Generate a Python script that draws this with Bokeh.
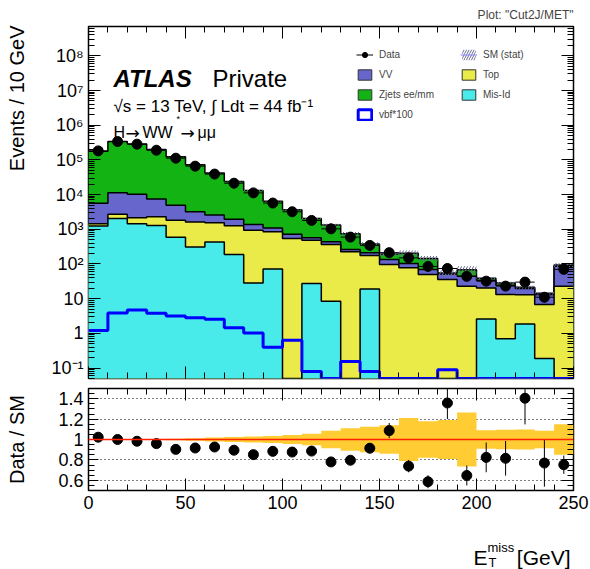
import math
import numpy as np
from bokeh.plotting import figure
from bokeh.models import (ColumnDataSource, FixedTicker, LogAxis, LinearAxis, Label,
                          Legend, LegendItem, Span, Range1d)
from bokeh.layouts import column, row
from bokeh.embed import file_html
from bokeh.resources import INLINE

FONT = "Liberation Sans"
ARROW_FONT = "DejaVu Sans"

# ---------------- data ----------------
bin_edges = [0, 10, 20, 30, 40, 50, 60, 70, 80, 90, 100, 110, 120, 130, 140, 150,
             160, 170, 180, 190, 200, 210, 220, 230, 240, 250]
data_counts = [182000, 338000, 284000, 190000, 112000, 66000, 39000, 21300, 11200,
               5700, 3200, 1800, 1030, 595, 343, 212, 150, 85, 74, 44, 32, 23, 30, 11, 70]
misid = [1240, 2060, 1440, 1290, 594, 310, 427, 188, 28.5, 72, 0, 27.4, 8.4, 0, 19,
         0, 0, 0, 0, 0, 2.6, 0.7, 1.86, 0.19, 0]
top = [200, 640, 710, 1010, 1216, 1310, 1113, 1072, 902, 778, 545, 453, 358, 224, 157,
       97, 77.6, 49.8, 35.7, 22.9, 17.8, 12.4, 11.2, 6.56, 22.9]
vv = [4160, 8600, 8050, 5150, 3090, 1580, 1030, 680, 450, 230, 170, 90, 69, 38, 33,
      38, 25.4, 19.6, 15.9, 21.6, 13.6, 11.3, 6.5, 6.35, 63.8]
zjets = [172400, 326700, 278800, 190550, 119100, 68800, 39530, 21860, 11770, 5370,
         2935, 1460, 885, 485, 166, 60, 100, 75.6, 2.9, 23.5, 4.8, 3.8, 1.8, 1.2, 6.3]
vbf_x100 = [1.2, 3.86, 4.7, 3.79, 3.16, 2.84, 2.54, 1.46, 1.02, 0.40, 0.63, 0.079, 0,
            0.155, 0.08, 0, 0, 0, 0.089, 0, 0, 0, 0, 0, 0]
sm_stat_rel = [0.005, 0.005, 0.005, 0.006, 0.008, 0.013, 0.02, 0.025, 0.03, 0.035,
               0.045, 0.056, 0.085, 0.11, 0.125, 0.14, 0.21, 0.18, 0.19, 0.265, 0.09,
               0.095, 0.097, 0.085, 0.15]

log_ticks = [0.1, 1, 10, 100, 1000, 10**4, 10**5, 10**6, 10**7, 10**8]
log_tick_labels = ["10⁻¹", "1", "10", "10²", "10³", "10⁴", "10⁵", "10⁶", "10⁷", "10⁸"]
ratio_ticks = [0.6, 0.8, 1.0, 1.2, 1.4]
ratio_tick_labels = ["0.6", "0.8", "1", "1.2", "1.4"]
x_ticks = [0, 50, 100, 150, 200, 250]
x_tick_labels = ["0", "50", "100", "150", "200", "250"]

# ---------------- derived ----------------
Y_MIN, Y_MAX = 0.05, 7e8
X_OFF = -1000.0  # legend proxies live outside the visible x range
edges = np.array(bin_edges, dtype=float)
left, right = edges[:-1], edges[1:]
centers = 0.5 * (left + right)

c_misid = np.array(misid, dtype=float)
c_top = c_misid + np.array(top)
c_vv = c_top + np.array(vv)
c_total = c_vv + np.array(zjets)
dat = np.array(data_counts, dtype=float)
derr = np.sqrt(dat)
rel = np.array(sm_stat_rel)

COL_Z = "#13b313"
COL_VV = "#6666cc"
COL_TOP = "#eaea48"
COL_MIS = "#48eaea"
COL_BAND = "#ffcc33"
COL_HATCH = "#6a6a90"


def clipv(a):
    return np.maximum(np.asarray(a, dtype=float), Y_MIN)


def ext(a):
    a = np.asarray(a, dtype=float)
    return np.append(a, a[-1])


def overrides(vals, labs):
    d = {}
    for v, l in zip(vals, labs):
        d[v] = l
        d[str(v)] = l
    return d


def style_axis(ax, ticker, labels=None, show=True):
    ax.ticker = ticker
    ax.axis_line_color = None
    ax.major_tick_in = 12
    ax.major_tick_out = 0
    ax.minor_tick_in = 6
    ax.minor_tick_out = 0
    ax.major_tick_line_color = "black"
    ax.minor_tick_line_color = "black"
    ax.major_tick_line_width = 1
    ax.minor_tick_line_width = 1
    if show:
        ax.major_label_text_font = FONT
        ax.major_label_text_font_size = "18px"
        ax.major_label_text_color = "black"
        ax.major_label_standoff = 5
        if labels is not None:
            ax.major_label_overrides = labels
    else:
        ax.major_label_text_font_size = "2px"
        ax.major_label_text_color = None
        ax.major_label_standoff = 0


def lab(fig, text, x, y, size, style="normal", align="left", font=FONT, angle=0.0):
    fig.add_layout(Label(x=x, y=y, x_units="screen", y_units="screen", text=text,
                         text_font=font, text_font_size=size, text_font_style=style,
                         text_align=align, text_baseline="alphabetic", angle=angle,
                         text_color="black"))


def blank_strip(w, h):
    f = figure(width=w, height=h, x_range=Range1d(0, 1), y_range=Range1d(0, 1),
               output_backend="svg", toolbar_location=None, min_border=0,
               x_axis_location=None, y_axis_location=None)
    f.grid.visible = False
    f.outline_line_color = None
    return f


log_minor = [m * 10.0 ** k for k in range(-2, 9) for m in range(2, 10)]
x_minor = list(range(0, 251, 10))
ratio_minor = [round(0.5 + 0.05 * i, 2) for i in range(21)]

STRIP_W = 40
W = 590 - STRIP_W
BL = 88 - STRIP_W

# ---------------- main panel ----------------
p = figure(width=W, height=384, x_range=Range1d(0, 250), y_range=Range1d(Y_MIN, Y_MAX),
           y_axis_type="log", output_backend="svg", toolbar_location=None,
           min_border_left=BL, min_border_right=17, min_border_top=26, min_border_bottom=6,
           title='Plot: "Cut2J/MET"')
p.title.align = "right"
p.title.text_font = FONT
p.title.text_font_size = "12px"
p.title.text_font_style = "normal"
p.title.standoff = 9
p.grid.visible = False
p.outline_line_color = "black"
p.outline_line_width = 1.5

floor = np.full(len(edges), Y_MIN)
for cum, col in [(c_total, COL_Z), (c_vv, COL_VV), (c_top, COL_TOP), (c_misid, COL_MIS)]:
    yy = ext(clipv(cum))
    p.varea_step(x=edges, y1=floor, y2=yy, step_mode="after", fill_color=col)
    p.step(x=edges, y=yy, mode="after", line_color="black", line_width=1.5)

hatch_src = ColumnDataSource(dict(left=left, right=right, top=c_total * (1 + rel),
                                  bottom=c_total * (1 - rel)))
p.quad(left="left", right="right", top="top", bottom="bottom", source=hatch_src,
       fill_color=None, line_color=None, hatch_pattern="/",
       hatch_color=COL_HATCH, hatch_scale=6, hatch_weight=1)

p.step(x=edges, y=ext(clipv(vbf_x100)), mode="after", line_color="#0000ff", line_width=3)

dsrc = ColumnDataSource(dict(x=centers, y=dat, lo=np.maximum(dat - derr, Y_MIN),
                             hi=dat + derr, l=left, r=right))
r_derr = p.segment(x0="x", y0="lo", x1="x", y1="hi", source=dsrc, line_color="black",
                   line_width=1)
p.segment(x0="l", y0="y", x1="r", y1="y", source=dsrc, line_color="black", line_width=1)
r_data = p.scatter(x="x", y="y", source=dsrc, size=10, color="black")


def proxy_quad(**kw):
    return p.quad(left=[X_OFF], right=[X_OFF + 1], top=[1.0], bottom=[0.5], **kw)

r_leg_vv = proxy_quad(fill_color=COL_VV, line_color="#333333")
r_leg_top = proxy_quad(fill_color=COL_TOP, line_color="#333333")
r_leg_z = proxy_quad(fill_color=COL_Z, line_color="#333333")
r_leg_mis = proxy_quad(fill_color=COL_MIS, line_color="#333333")
r_leg_vbf = proxy_quad(fill_color="white", line_color="#0000ff", line_width=3)
r_leg_sm = proxy_quad(fill_color=None, line_color=None, hatch_pattern="/",
                      hatch_color=COL_HATCH, hatch_scale=5, hatch_weight=1)
r_leg_sml = p.line(x=[X_OFF, X_OFF + 1], y=[1.0, 1.0], line_color="#8888ff", line_width=1)


def make_legend(items, loc):
    lg = Legend(items=items, location=loc, orientation="vertical")
    lg.label_text_font = FONT
    lg.label_text_font_size = "10px"
    lg.glyph_width = 17
    lg.glyph_height = 13
    lg.label_height = 13
    lg.label_standoff = 6
    lg.spacing = 7
    lg.padding = 0
    lg.margin = 0
    lg.border_line_color = None
    lg.background_fill_alpha = 0
    return lg

p.add_layout(make_legend([
    LegendItem(label="Data", renderers=[r_derr, r_data]),
    LegendItem(label="VV", renderers=[r_leg_vv]),
    LegendItem(label="Zjets ee/mm", renderers=[r_leg_z]),
    LegendItem(label="vbf*100", renderers=[r_leg_vbf]),
], (268, 257)))
p.add_layout(make_legend([
    LegendItem(label="SM (stat)", renderers=[r_leg_sm, r_leg_sml]),
    LegendItem(label="Top", renderers=[r_leg_top]),
    LegendItem(label="Mis-Id", renderers=[r_leg_mis]),
], (372, 277)))

style_axis(p.xaxis[0], FixedTicker(ticks=x_ticks, minor_ticks=x_minor), show=False)
style_axis(p.yaxis[0], FixedTicker(ticks=log_ticks, minor_ticks=log_minor),
           labels=overrides(log_ticks, log_tick_labels))
ax_top = LinearAxis()
style_axis(ax_top, FixedTicker(ticks=x_ticks, minor_ticks=x_minor), show=False)
p.add_layout(ax_top, "above")
ax_right = LogAxis()
style_axis(ax_right, FixedTicker(ticks=log_ticks, minor_ticks=log_minor), show=False)
p.add_layout(ax_right, "right")

lab(p, "ATLAS", 25, 300, "24px", style="bold italic")
lab(p, "Private", 124, 300, "24px")
lab(p, "√s = 13 TeV, ∫ Ldt = 44 fb⁻¹", 25, 272, "17px")
lab(p, "H", 25, 246, "16px")
lab(p, "→", 37, 246, "17px", font=ARROW_FONT)
lab(p, "WW", 54, 246, "16px")
lab(p, "*", 88, 260, "9px")
lab(p, "→", 92, 246, "17px", font=ARROW_FONT)
lab(p, "μμ", 109, 246, "16px")

# ---------------- ratio panel ----------------
r = figure(width=W, height=136, x_range=Range1d(0, 250), y_range=Range1d(0.5, 1.5),
           output_backend="svg", toolbar_location=None,
           min_border_left=BL, min_border_right=17, min_border_top=4, min_border_bottom=30)
r.xgrid.visible = False
r.ygrid.ticker = FixedTicker(ticks=[0.6, 0.8, 1.2, 1.4])
r.ygrid.grid_line_color = "black"
r.ygrid.grid_line_dash = "1 3"
r.ygrid.grid_line_width = 1
r.outline_line_color = "black"
r.outline_line_width = 1.5

ratio = dat / c_total
rerr = derr / c_total
r.varea_step(x=edges, y1=ext(1 - rel), y2=ext(1 + rel), step_mode="after",
             fill_color=COL_BAND)
r.add_layout(Span(location=1.0, dimension="width", line_color="#ff2200", line_width=1.5))
rsrc = ColumnDataSource(dict(x=centers, y=ratio, lo=ratio - rerr, hi=ratio + rerr))
r.segment(x0="x", y0="lo", x1="x", y1="hi", source=rsrc, line_color="black", line_width=1)
r.scatter(x="x", y="y", source=rsrc, size=10, color="black")

style_axis(r.xaxis[0], FixedTicker(ticks=x_ticks, minor_ticks=x_minor),
           labels=overrides(x_ticks, x_tick_labels))
style_axis(r.yaxis[0], FixedTicker(ticks=ratio_ticks, minor_ticks=ratio_minor),
           labels=overrides(ratio_ticks, ratio_tick_labels))
r.yaxis[0].major_tick_in = 10
ax_top2 = LinearAxis()
style_axis(ax_top2, FixedTicker(ticks=x_ticks, minor_ticks=x_minor), show=False)
r.add_layout(ax_top2, "above")
ax_right2 = LinearAxis()
style_axis(ax_right2, FixedTicker(ticks=ratio_ticks, minor_ticks=ratio_minor), show=False)
r.add_layout(ax_right2, "right")

# ---------------- x-axis title strip (frame aligned with the panels above) ----------------
t = blank_strip(W, 49)
lab(t, "E", 385, 12, "21px")
lab(t, "miss", 399, 22, "13px")
lab(t, "T", 400, 7, "13px")
lab(t, "[GeV]", 482, 12, "21px", align="right")

# ---------------- y-axis title strip on the left ----------------
s = blank_strip(STRIP_W, 569)
lab(s, "Events / 10 GeV", 16, 569 - 25, "20px", align="right", angle=math.pi / 2)
lab(s, "Data / SM", 16, 569 - 439, "20px", align="center", angle=math.pi / 2)

layout = row(s, column(p, r, t, spacing=0), spacing=0)
open("out.html", "w").write(file_html(layout, INLINE))
